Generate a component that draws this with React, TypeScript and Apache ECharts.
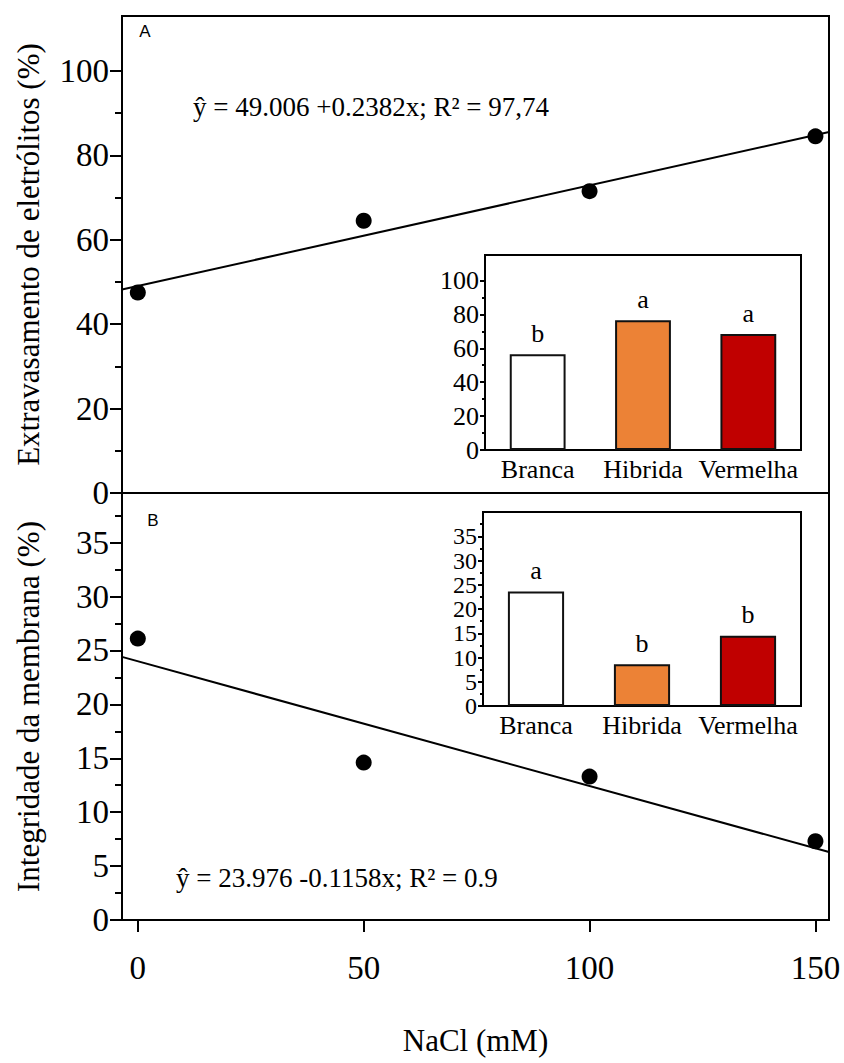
import React, { useEffect, useRef } from "react";
import * as echarts from "echarts";

// ---- data ----
const nacl = [0, 50, 100, 150];
const xTickValues = [0, 50, 100, 150];
const leakage = [47.5, 64.5, 71.5, 84.5];
const integrity = [26.1, 14.6, 13.3, 7.3];
// regression lines as drawn (end points)
const leakageFitX = [-3.5, 153];
const leakageFitY = [48.2, 85.5];
const integrityFitX = [-3.5, 153];
const integrityFitY = [24.4, 6.3];

const cultivars = ["Branca", "Hibrida", "Vermelha"];
const leakageByCultivar = [56.5, 76.5, 68.4];
const leakageLetters = ["b", "a", "a"];
const integrityByCultivar = [23.6, 8.6, 14.5];
const integrityLetters = ["a", "b", "b"];
const cultivarColors = ["#FFFFFF", "#EC8236", "#C00000"];

const topMajor = [0, 20, 40, 60, 80, 100];
const topMinor = [10, 30, 50, 70, 90];
const botMajor = [0, 5, 10, 15, 20, 25, 30, 35];
const botMinor = [2.5, 7.5, 12.5, 17.5, 22.5, 27.5, 32.5, 37.5];
const insetAMajor = [0, 20, 40, 60, 80, 100];
const insetAMinor = [10, 30, 50, 70, 90];
const insetBMajor = [0, 5, 10, 15, 20, 25, 30, 35];
const insetBMinor = [2.5, 7.5, 12.5, 17.5, 22.5, 27.5, 32.5, 37.5];

const eqA = "ŷ = 49.006 +0.2382x; R² = 97,74";
const eqB = "ŷ = 23.976 -0.1158x; R² = 0.9";

const SERIF = '"Liberation Serif", "Times New Roman", serif';
const BLACK = "#000";

function majorAxis(gridIndex: number, min: number, max: number, ticks: number[], fontSize: number, tickLen: number, margin: number, extra: any = {}) {
  return {
    type: "value",
    gridIndex,
    position: "left",
    min,
    max,
    axisLine: { show: true, onZero: false, lineStyle: { color: BLACK, width: 2 } },
    axisTick: { show: true, customValues: ticks, length: tickLen, lineStyle: { color: BLACK, width: 2 } },
    axisLabel: {
      customValues: ticks, fontSize, fontFamily: SERIF, color: BLACK, margin,
      showMinLabel: true, showMaxLabel: true, hideOverlap: false,
    },
    splitLine: { show: false },
    ...extra,
  };
}
function minorAxis(gridIndex: number, min: number, max: number, ticks: number[], tickLen: number) {
  return {
    type: "value",
    gridIndex,
    position: "left",
    min,
    max,
    axisLine: { show: false, onZero: false },
    axisTick: { show: true, customValues: ticks, length: tickLen, lineStyle: { color: BLACK, width: 2 } },
    axisLabel: { show: false },
    splitLine: { show: false },
  };
}

export default function App() {
  const ref = useRef<HTMLDivElement>(null);
  useEffect(() => {
    document.body.style.margin = "0";
    const chart = echarts.init(ref.current!, null, { renderer: "svg" });
    const gridStyle = { show: true, borderColor: BLACK, borderWidth: 2, backgroundColor: "transparent" };
    const insetStyle = { show: true, borderColor: BLACK, borderWidth: 2, backgroundColor: "#fff", z: 5 };
    const barData = (vals: number[]) =>
      vals.map((v, i) => ({ value: v, itemStyle: { color: cultivarColors[i] } }));
    const catAxis = (gridIndex: number) => ({
      type: "category", gridIndex, data: cultivars, position: "bottom",
      axisLine: { show: true, onZero: false, lineStyle: { color: BLACK, width: 2 } },
      axisTick: { show: false },
      axisLabel: { interval: 0, fontSize: 26, fontFamily: SERIF, color: BLACK, margin: 6 },
    });
    chart.setOption({
      animation: false,
      grid: [
        { left: 122, top: 16, width: 707, height: 477, ...gridStyle },
        { left: 122, top: 493, width: 707, height: 427, ...gridStyle },
        { left: 485, top: 255, width: 316, height: 195, ...insetStyle },
        { left: 483, top: 512, width: 318, height: 194, ...insetStyle },
      ],
      xAxis: [
        {
          type: "value", gridIndex: 0, min: -3.5, max: 153, position: "bottom",
          axisLine: { show: true, onZero: false, lineStyle: { color: BLACK, width: 2 } },
          axisTick: { show: false }, axisLabel: { show: false }, splitLine: { show: false },
        },
        {
          type: "value", gridIndex: 1, min: -3.5, max: 153, position: "bottom",
          axisLine: { show: true, onZero: false, lineStyle: { color: BLACK, width: 2 } },
          axisTick: { show: true, customValues: xTickValues, length: 12, lineStyle: { color: BLACK, width: 2 } },
          axisLabel: { customValues: xTickValues, fontSize: 33, fontFamily: SERIF, color: BLACK, margin: 31, showMinLabel: true, showMaxLabel: true },
          splitLine: { show: false },
          name: "NaCl (mM)", nameLocation: "middle", nameGap: 105,
          nameTextStyle: { fontSize: 31, fontFamily: SERIF, color: BLACK },
        },
        catAxis(2),
        catAxis(3),
      ],
      yAxis: [
        majorAxis(0, 0, 113, topMajor, 33, 12, 13, {
          name: "Extravasamento de eletrólitos (%)", nameLocation: "middle", nameGap: 78, nameRotate: 90,
          nameTextStyle: { fontSize: 31, fontFamily: SERIF, color: BLACK },
        }),
        minorAxis(0, 0, 113, topMinor, 7),
        majorAxis(1, 0, 39.6, botMajor, 33, 12, 13, {
          name: "Integridade da membrana (%)", nameLocation: "middle", nameGap: 78, nameRotate: 90,
          nameTextStyle: { fontSize: 31, fontFamily: SERIF, color: BLACK },
        }),
        minorAxis(1, 0, 39.6, botMinor, 7),
        majorAxis(2, 0, 115, insetAMajor, 26, 5, 6),
        minorAxis(2, 0, 115, insetAMinor, 3),
        majorAxis(3, 0, 40, insetBMajor, 24, 5, 6, { axisLabel: { customValues: insetBMajor, fontSize: 24, fontFamily: SERIF, color: BLACK, margin: 6, lineHeight: 22, showMinLabel: true, showMaxLabel: true, hideOverlap: false } }),
        minorAxis(3, 0, 40, insetBMinor, 3),
      ],
      graphic: [
        { type: "text", x: 145, y: 31, style: { text: "A", fontSize: 17, fontFamily: '"Liberation Sans", sans-serif', fill: BLACK, align: "center", verticalAlign: "middle" } },
        { type: "text", x: 153, y: 520, style: { text: "B", fontSize: 17, fontFamily: '"Liberation Sans", sans-serif', fill: BLACK, align: "center", verticalAlign: "middle" } },
        { type: "text", x: 193, y: 107, style: { text: eqA, fontSize: 27, fontFamily: SERIF, fill: BLACK, align: "left", verticalAlign: "middle" } },
        { type: "text", x: 176, y: 878, style: { text: eqB, fontSize: 27, fontFamily: SERIF, fill: BLACK, align: "left", verticalAlign: "middle" } },
      ],
      series: [
        {
          type: "line", xAxisIndex: 0, yAxisIndex: 0, symbol: "none",
          data: leakageFitX.map((x, i) => [x, leakageFitY[i]]),
          lineStyle: { color: BLACK, width: 2 }, z: 2,
        },
        {
          type: "scatter", xAxisIndex: 0, yAxisIndex: 0, symbol: "circle", symbolSize: 16,
          data: nacl.map((x, i) => [x, leakage[i]]), itemStyle: { color: BLACK, opacity: 1 }, z: 3,
        },
        {
          type: "line", xAxisIndex: 1, yAxisIndex: 2, symbol: "none",
          data: integrityFitX.map((x, i) => [x, integrityFitY[i]]),
          lineStyle: { color: BLACK, width: 2 }, z: 2,
        },
        {
          type: "scatter", xAxisIndex: 1, yAxisIndex: 2, symbol: "circle", symbolSize: 16,
          data: nacl.map((x, i) => [x, integrity[i]]), itemStyle: { color: BLACK, opacity: 1 }, z: 3,
        },
        {
          type: "bar", xAxisIndex: 2, yAxisIndex: 4, barWidth: "53%", z: 6,
          data: barData(leakageByCultivar),
          itemStyle: { borderColor: "#111", borderWidth: 2 },
          label: {
            show: true, position: "top", distance: 8, fontSize: 26, fontFamily: SERIF, color: BLACK,
            formatter: (p: any) => leakageLetters[p.dataIndex],
          },
        },
        {
          type: "bar", xAxisIndex: 3, yAxisIndex: 6, barWidth: "53%", z: 6,
          data: barData(integrityByCultivar),
          itemStyle: { borderColor: "#111", borderWidth: 2 },
          label: {
            show: true, position: "top", distance: 8, fontSize: 26, fontFamily: SERIF, color: BLACK,
            formatter: (p: any) => integrityLetters[p.dataIndex],
          },
        },
      ],
    });
    return () => chart.dispose();
  }, []);
  return <div ref={ref} style={{ width: 844, height: 1063 }} />;
}
